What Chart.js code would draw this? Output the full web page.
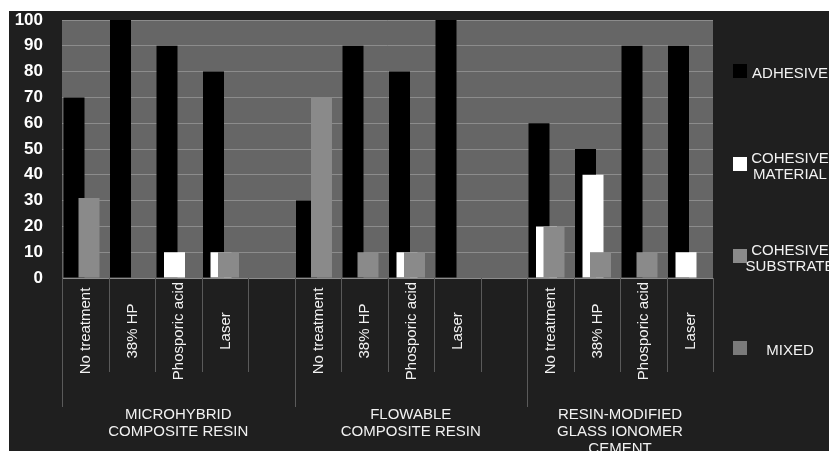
<!DOCTYPE html>
<html lang="en">
<head>
    <meta charset="UTF-8">
    <title>Failure modes by surface treatment</title>
    <script src="https://cdn.jsdelivr.net/npm/chart.js"></script>
    <style>
        body { margin: 0; background: #fff; }
        #wrap {
            position: absolute;
            left: 9px;
            top: 11px;
            width: 820px;
            height: 440px;
            background: #1f1f1f;
        }
    </style>
</head>
<body>
    <div id="wrap"><canvas id="failChart" width="820" height="440"></canvas></div>
    <script>
        // categories (blank slots separate the material groups)
        var categories = ['No treatment', '38% HP', 'Phosporic acid', 'Laser', '',
                          'No treatment', '38% HP', 'Phosporic acid', 'Laser', '',
                          'No treatment', '38% HP', 'Phosporic acid', 'Laser'];
        var groupNames = [['MICROHYBRID', 'COMPOSITE RESIN'],
                          ['FLOWABLE', 'COMPOSITE RESIN'],
                          ['RESIN-MODIFIED', 'GLASS IONOMER', 'CEMENT']];
        var groupSizes = [5, 5, 4];

        var seriesNames = [['ADHESIVE'], ['COHESIVE', 'MATERIAL'], ['COHESIVE', 'SUBSTRATE'], ['MIXED']];
        var adhesive          = [70, 100, 90, 80, null, 30, 90, 80, 100, null, 60, 50, 90, 90];
        var cohesiveMaterial  = [0, 0, 10, 10, null, 0, 0, 10, 0, null, 20, 40, 0, 10];
        var cohesiveSubstrate = [31, 0, 0, 10, null, 70, 10, 10, 0, null, 20, 10, 10, 0];
        var mixed             = [0, 0, 0, 0, null, 0, 0, 0, 0, null, 0, 0, 0, 0];
        var yTicks = [0, 10, 20, 30, 40, 50, 60, 70, 80, 90, 100];

        var colors = ['#000000', '#ffffff', '#8a8a8a', '#7a7a7a'];
        var fontFam = '"Liberation Sans", Arial, sans-serif';

        // gray plot area + draw the series in order so later ones sit on top
        var plotBg = {
            id: 'plotBg',
            beforeDraw: function(chart) {
                var a = chart.chartArea, ctx = chart.ctx;
                ctx.save();
                ctx.fillStyle = '#666666';
                ctx.fillRect(a.left, a.top, a.right - a.left, a.bottom - a.top);
                ctx.restore();
            },
            beforeDatasetsDraw: function(chart) {
                for (var i = 0; i < chart.data.datasets.length; i++) {
                    chart.getDatasetMeta(i).controller.draw();
                }
                return false;
            }
        };

        // category labels, group labels, dividers and legend
        var axisExtras = {
            id: 'axisExtras',
            afterDraw: function(chart) {
                var ctx = chart.ctx, a = chart.chartArea, x = chart.scales.x;
                var n = categories.length;
                var edge = function(k) {
                    if (k === 0) return a.left;
                    if (k === n) return a.right;
                    return (x.getPixelForValue(k - 1) + x.getPixelForValue(k)) / 2;
                };
                var starts = [0];
                groupSizes.forEach(function(s, i) { starts.push(starts[i] + s); });

                ctx.save();
                ctx.strokeStyle = '#5a5a5a';
                ctx.lineWidth = 1;
                for (var k = 0; k <= n; k++) {
                    var px = Math.round(edge(k)) + 0.5;
                    var isLong = starts.indexOf(k) !== -1 && k !== n;
                    ctx.beginPath();
                    ctx.moveTo(px, a.bottom);
                    ctx.lineTo(px, a.bottom + (isLong ? 129 : 94));
                    ctx.stroke();
                }

                ctx.fillStyle = '#f2f2f2';
                ctx.font = '15px ' + fontFam;
                ctx.textAlign = 'center';
                ctx.textBaseline = 'middle';
                categories.forEach(function(c, i) {
                    if (!c) return;
                    ctx.save();
                    ctx.translate(x.getPixelForValue(i) + 1, a.bottom + 53);
                    ctx.rotate(-Math.PI / 2);
                    ctx.fillText(c, 0, 0);
                    ctx.restore();
                });

                groupNames.forEach(function(lines, g) {
                    var cx = (edge(starts[g]) + edge(starts[g + 1])) / 2;
                    lines.forEach(function(t, j) {
                        ctx.fillText(t, cx, a.bottom + 137 + j * 17);
                    });
                });

                // legend
                var legendY = [60, 153, 245, 337];
                seriesNames.forEach(function(lines, i) {
                    var y = legendY[i];
                    ctx.fillStyle = colors[i];
                    ctx.fillRect(724, y - 7, 14, 14);
                    ctx.fillStyle = '#f2f2f2';
                    var top = y + 3 - (lines.length - 1) * 8;
                    lines.forEach(function(t, j) {
                        ctx.fillText(t, 781, top + j * 16);
                    });
                });
                ctx.restore();
            }
        };

        var ds = [adhesive, cohesiveMaterial, cohesiveSubstrate, mixed].map(function(d, i) {
            return {
                label: seriesNames[i].join(' '),
                data: d,
                backgroundColor: colors[i],
                borderWidth: 0,
                categoryPercentage: 0.645,
                barPercentage: 2.8
            };
        });

        new Chart(document.getElementById('failChart'), {
            type: 'bar',
            data: { labels: categories, datasets: ds },
            options: {
                responsive: false,
                animation: false,
                layout: { padding: { left: 0, top: 9, right: 116, bottom: 0 } },
                plugins: { legend: { display: false }, tooltip: { enabled: false } },
                scales: {
                    x: {
                        grid: { display: false },
                        border: { display: false },
                        ticks: { display: false },
                        afterFit: function(s) { s.height = 173; s.paddingLeft = 0; s.paddingRight = 0; }
                    },
                    y: {
                        min: 0,
                        max: 100,
                        afterBuildTicks: function(s) { s.ticks = yTicks.map(function(v) { return { value: v }; }); },
                        grid: { color: '#8c8c8c', drawTicks: false },
                        border: { display: false },
                        ticks: {
                            color: '#ffffff',
                            padding: 19,
                            font: { family: fontFam, size: 17, weight: 'bold' }
                        },
                        afterFit: function(s) { s.width = 53; s.paddingTop = 0; s.paddingBottom = 0; }
                    }
                }
            },
            plugins: [plotBg, axisExtras]
        });
    </script>
</body>
</html>
